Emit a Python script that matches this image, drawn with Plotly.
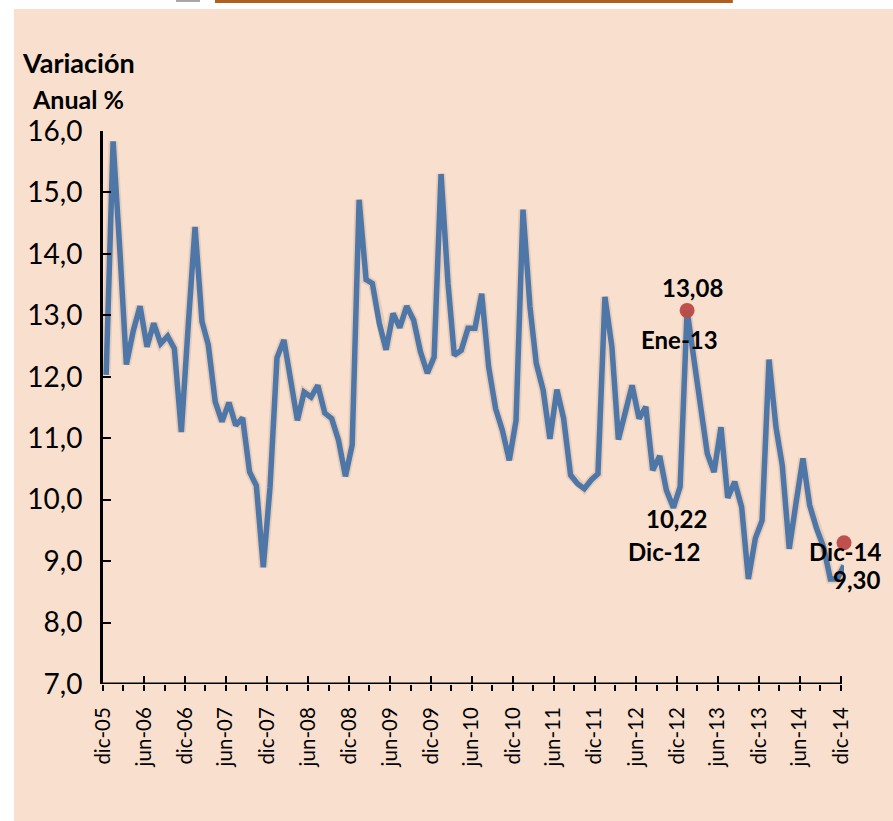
import pandas as pd
import plotly.graph_objects as go

# ---------------- data ----------------
start_month = "2005-12-01"
n_months = 109  # dic-05 .. dic-14
variacion = [
    12.03, 15.83, 14.00, 12.20, 12.75, 13.15, 12.49, 12.87, 12.54, 12.66, 12.46, 11.10,
    12.80, 14.44, 12.90, 12.52, 11.59, 11.27, 11.58, 11.21, 11.33, 10.45, 10.23, 8.90,
    10.20, 12.31, 12.60, 12.00, 11.29, 11.75, 11.67, 11.86, 11.41, 11.32, 10.97, 10.38,
    10.89, 14.88, 13.58, 13.52, 12.87, 12.44, 13.03, 12.80, 13.15, 12.92, 12.41, 12.06,
    12.32, 15.30, 13.52, 12.35, 12.43, 12.79, 12.79, 13.35, 12.16, 11.48, 11.13, 10.64,
    11.29, 14.72, 13.14, 12.22, 11.78, 10.99, 11.79, 11.32, 10.40, 10.26, 10.18, 10.32,
    10.42, 13.30, 12.49, 10.98, 11.42, 11.86, 11.32, 11.51, 10.48, 10.71, 10.15, 9.87,
    10.21, 13.08, 12.27, 11.59, 10.75, 10.45, 11.18, 10.03, 10.29, 9.88, 8.71, 9.37,
    9.66, 12.28, 11.18, 10.56, 9.20, 9.94, 10.67, 9.91, 9.53, 9.23, 8.71, 8.71,
    8.93,
]
hl_dates = ["2013-01-15", "2014-12-15"]
hl_values = [13.08, 9.30]
lbl_dates = ["2013-01-15", "2012-12-15", "2014-12-15"]
lbl_values = [13.08, 10.22, 9.30]
lbl_names = ["Ene-13", "Dic-12", "Dic-14"]
tick_labels = ["dic-05", "jun-06", "dic-06", "jun-07", "dic-07", "jun-08", "dic-08",
               "jun-09", "dic-09", "jun-10", "dic-10", "jun-11", "dic-11", "jun-12",
               "dic-12", "jun-13", "dic-13", "jun-14", "dic-14"]
y_ticks = [7, 8, 9, 10, 11, 12, 13, 14, 15, 16]

# ---------------- derived ----------------
dates = pd.date_range(start_month, periods=n_months, freq="MS") + pd.Timedelta(days=14)
date_keys = list(dates.strftime("%Y-%m-%d"))
tick_vals = pd.date_range(start_month, periods=len(tick_labels), freq="6MS")
minor_vals = pd.date_range("2006-03-01", periods=len(tick_labels) - 1, freq="6MS")
axis_end = tick_vals[-1]
range_end = dates[-1]               # plot area runs half a month past the last tick
x_range = [tick_vals[0], range_end]

W, H = 893, 821
L, T, B = 103, 131, 137
AXIS_RIGHT = 841  # pixel of last tick
span_days = (axis_end - tick_vals[0]).days
extra_px = (AXIS_RIGHT - L) * (range_end - axis_end).days / span_days
R = W - AXIS_RIGHT - extra_px
pw, ph = W - L - R, H - T - B


def px(x):
    return (x - L) / pw


def py(y):
    return (H - B - y) / ph


FONT = "Lato"
BLUE = "#4A7EBB"
RED = "#C0504D"
PEACH = "rgb(248,223,206)"

fig = go.Figure()

# soft shadow under the line (on overlay axis so that axis gets drawn)
fig.add_trace(go.Scatter(
    x=dates, y=variacion, mode="lines", xaxis="x2",
    line=dict(color="rgba(110,70,40,0.13)", width=9),
    hoverinfo="skip", showlegend=False))

fig.add_trace(go.Scatter(
    x=dates, y=variacion, mode="lines",
    line=dict(color=BLUE, width=5.5), showlegend=False))

fig.add_trace(go.Scatter(
    x=hl_dates, y=hl_values, mode="markers", cliponaxis=False,
    marker=dict(color=RED, size=15), showlegend=False))

# data labels
offsets = [  # (value xshift, value yshift, name xshift, name yshift)
    (5, 23, -8, -29),
    (-4, -32, -16, -65),
    (12, -37, 1, -9),
]
for d, v, nm, (vx, vy, nx, ny) in zip(lbl_dates, lbl_values, lbl_names, offsets):
    pt_y = hl_values[hl_dates.index(d)] if d in hl_dates else variacion[date_keys.index(d)]
    fig.add_annotation(x=d, y=pt_y, text=f"{v:.2f}".replace(".", ","), showarrow=False,
                       xanchor="center", yanchor="middle", xshift=vx, yshift=vy,
                       font=dict(family=FONT, size=24, color="black", weight="bold"))
    fig.add_annotation(x=d, y=pt_y, text=nm, showarrow=False,
                       xanchor="center", yanchor="middle", xshift=nx, yshift=ny,
                       font=dict(family=FONT, size=24, color="black", weight="bold"))

# axis title
fig.add_annotation(x=px(78), y=py(62), xref="paper", yref="paper", text="Variación",
                   xanchor="center", yanchor="middle", showarrow=False,
                   font=dict(family=FONT, size=27, color="black", weight="bold"))
fig.add_annotation(x=px(78), y=py(99), xref="paper", yref="paper", text="Anual %",
                   xanchor="center", yanchor="middle", showarrow=False,
                   font=dict(family=FONT, size=25, color="black", weight="bold"))

# x axis line only up to the last tick
fig.add_shape(type="line", xref="x", yref="y", x0=tick_vals[0], x1=axis_end, y0=7, y1=7,
              line=dict(color="black", width=3))

# background panel + header bits
fig.add_shape(type="rect", xref="paper", yref="paper", layer="below",
              x0=px(14), x1=px(W + 5), y0=py(9), y1=py(H + 5),
              fillcolor=PEACH, line=dict(width=0))
fig.add_shape(type="rect", xref="paper", yref="paper",
              x0=px(215), x1=px(733), y0=py(0), y1=py(3),
              fillcolor="#B0601E", line=dict(width=0))
fig.add_shape(type="rect", xref="paper", yref="paper",
              x0=px(176), x1=px(200), y0=py(0), y1=py(2),
              fillcolor="#A8A8A8", line=dict(width=0))

fig.update_layout(
    width=W, height=H,
    margin=dict(l=L, r=R, t=T, b=B, pad=0),
    paper_bgcolor="white", plot_bgcolor="rgba(0,0,0,0)",
    separators=",.",
    font=dict(family=FONT, color="black"),
    xaxis=dict(
        type="date", range=x_range, tickvals=tick_vals, ticktext=tick_labels,
        tickangle=-90, tickfont=dict(family=FONT, size=20.5, color="black"),
        ticks="outside", ticklen=6, tickwidth=2, tickcolor="black",
        minor=dict(tickvals=minor_vals, ticks="outside", ticklen=6, tickwidth=2,
                   tickcolor="black"),
        showline=False, showgrid=False, zeroline=False, ticklabelstandoff=8,
    ),
    xaxis2=dict(
        type="date", range=x_range, overlaying="x", anchor="y", side="bottom",
        tickvals=tick_vals, showticklabels=False,
        ticks="inside", ticklen=8, tickwidth=2, tickcolor="black",
        showline=False, showgrid=False, zeroline=False,
    ),
    yaxis=dict(
        range=[7, 16], tickvals=y_ticks, tickformat=".1f",
        tickfont=dict(family=FONT, size=28, color="black"),
        ticks="inside", ticklen=8, tickwidth=2, tickcolor="black",
        showline=True, linecolor="black", linewidth=3,
        showgrid=False, zeroline=False, ticklabelstandoff=12,
    ),
)

fig.write_html("out.html", config={"displayModeBar": False},
               post_script="document.body.style.margin='0';")
